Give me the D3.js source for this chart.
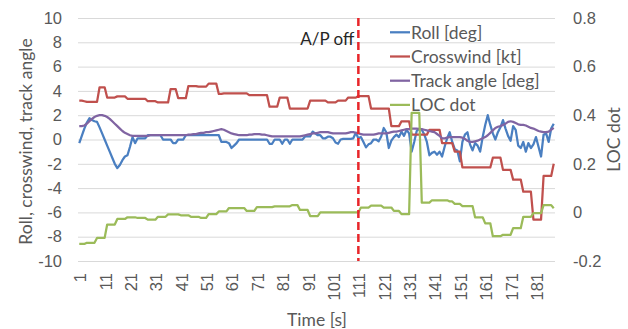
<!DOCTYPE html>
<html><head><meta charset="utf-8">
<script src="https://cdn.jsdelivr.net/npm/d3@7/dist/d3.min.js"></script>
<style>
html,body{margin:0;padding:0;background:#fff;}
svg{display:block;font-family:Lato,"Open Sans",sans-serif;}
</style></head>
<body><svg id="c" width="628" height="329"></svg>
<script>
// ---- data ----
const seriesNames = ["Roll [deg]","Crosswind [kt]","Track angle [deg]","LOC dot"];
const xTickLabels = ["1","11","21","31","41","51","61","71","81","91","101","111","121","131","141","151","161","171","181"];
const leftTicks = [-10,-8,-6,-4,-2,0,2,4,6,8,10];
const rightTicks = [-0.2,0,0.2,0.4,0.6,0.8];
const apOffTime = 111;

const roll = [
-0.3,0.3,0.9,1.4,1.75,1.6,1.5,1.45,1.0,0.5,
0.0,-0.5,-1.0,-1.5,-2.0,-2.35,-2.1,-1.7,-1.4,-1.3,
-0.6,0.2,-0.3,0.1,0.1,0.1,0.1,0.35,0.35,0.35,
0.35,0.35,0.35,0.0,0.0,0.0,0.0,-0.3,-0.3,0.0,
0.0,0.0,0.35,0.35,0.35,0.35,0.35,0.35,0.35,0.35,
0.35,0.35,0.35,0.35,0.35,0.35,-0.2,-0.2,-0.2,-0.3,
-0.7,-0.5,-0.3,0,0,0,0,0,0,0,
0,0,0,0,0,-0.35,-0.35,0,0,0,
-0.35,0,0,-0.35,0,0,0,0,0,0.25,
0.25,0.25,0.65,0.5,0.35,0.35,0.1,0.1,0.23,0.23,
0.1,-0.25,-0.35,0.0,0.05,0.05,0.05,0.05,0.1,0.55,
0.1,0.2,-0.2,-0.65,-0.4,-0.3,0.0,0.0,-0.15,0.25,
0.95,0.6,-0.7,-0.1,0.2,0.4,0.2,0.65,0.3,0.8,
0.5,-1.0,-0.2,0.7,0.9,0.8,0.4,-0.2,-1.3,-1.1,
-1.0,-1.25,-1.0,-1.4,-0.6,0.1,0.6,-0.2,-0.8,-0.9,
-1.8,-0.2,0.4,0.6,-0.4,-0.9,-0.3,-0.5,-1.0,0.2,
1.2,2.0,1.2,0.5,0.0,0.6,1.0,1.6,0.9,0.3,
-0.1,1.1,0.8,-0.5,-0.7,-0.2,-1.0,-0.3,-0.7,-0.4,
0.2,-0.6,-1.4,0.4,0.5,-0.2,0.9,1.3
];

const crosswind = [
3.2,3.2,3.15,3.1,3.1,3.1,3.1,3.1,
4.3,4.3,4.3,
3.45,3.45,3.45,3.45,
3.55,3.55,3.55,3.55,
3.35,3.35,3.35,3.35,3.35,3.35,3.35,3.35,
3.15,3.15,3.15,3.15,
3.05,3.05,3.05,3.05,3.05,
4.15,4.15,4.15,
3.4,3.4,3.4,3.4,
4.4,4.4,4.4,4.4,
4.35,4.35,4.35,4.35,
4.6,4.6,4.6,4.6,
3.75,3.75,3.8,3.8,3.8,3.8,3.8,3.8,3.8,3.8,3.8,3.8,
3.65,3.65,3.65,3.65,3.65,3.65,3.65,3.65,
2.7,2.7,2.7,2.7,
3.45,3.45,3.45,3.45,
2.55,2.55,2.55,2.55,2.55,2.55,2.55,2.55,
3.2,3.2,3.2,3.2,3.2,3.2,3.2,
3.05,3.05,3.05,3.05,
3.2,3.2,3.2,3.2,
3.45,3.45,3.45,3.45,
3.58,3.58,3.58,3.58,3.58,
2.55,2.55,2.55,2.55,2.55,2.55,2.55,2.55,
1.1,1.1,1.1,1.1,
1.5,1.5,1.5,1.5,
0.4,0.4,0.4,0.4,0.4,0.4,0.4,
0.8,0.8,0.8,0.8,0.8,
-0.3,-0.3,-0.3,-0.3,-0.3,
-1.0,-1.0,-1.0,
-2.3,-2.3,-2.3,-2.3,-2.3,-2.3,-2.3,-2.3,-2.3,-2.3,-2.3,-2.3,
-1.5,-1.5,-1.5,-1.5,
-2.5,-2.5,-2.5,-2.5,
-3.3,-3.3,-3.3,-3.3,
-4.3,-4.3,-4.3,-4.3,
-6.6,-6.6,-6.6,-6.6,
-3.0,-3.0,-3.0,-3.0,
-2.0
];

const trackAngle = [
1.1,1.1,1.15,
1.3,1.5,1.7,1.85,1.95,2.0,
2.0,1.95,1.85,
1.7,1.5,1.3,1.1,0.9,0.7,0.55,0.45,
0.35,0.3,0.3,0.3,0.3,0.3,0.3,0.3,
0.35,0.35,0.35,0.35,0.35,0.35,0.35,0.35,0.35,0.35,0.35,0.35,0.35,0.35,0.35,
0.4,0.4,0.45,0.45,0.5,0.55,0.55,0.6,0.6,0.65,0.7,0.75,0.8,
0.85,0.8,0.7,0.6,0.5,0.45,0.4,0.35,
0.35,0.35,0.35,0.4,0.4,0.45,0.45,0.45,0.4,0.4,0.35,0.3,
0.25,0.25,0.25,0.25,0.25,0.25,0.25,0.25,0.25,0.25,0.25,0.25,
0.3,0.35,0.4,0.45,0.5,0.5,
0.55,0.6,0.6,0.6,0.6,0.55,
0.5,0.5,0.5,0.5,0.5,0.5,0.55,0.6,
0.6,0.55,0.5,0.45,0.4,
0.4,0.4,0.4,0.4,0.45,
0.5,0.5,0.5,0.5,0.55,0.6,
0.65,0.65,0.7,0.75,0.8,0.85,0.85,
0.9,0.9,0.9,0.85,0.85,0.8,0.75,
0.7,0.65,0.6,0.45,0.3,0.1,
0.1,0.15,0.2,0.2,0.2,0.2,0.2,0.15,0.05,-0.1,-0.2,-0.2,-0.15,
-0.1,0,0.1,0.2,0.35,0.55,0.75,0.95,1.05,1.1,
1.2,1.3,1.45,1.5,1.45,
1.35,1.25,1.2,1.2,1.15,1.05,0.95,0.9,
0.8,0.7,0.65,0.6,0.6,0.65,0.8,0.95
];

const locDot = [
-0.13,-0.13,-0.13,
-0.125,-0.125,-0.125,-0.125,
-0.105,-0.105,-0.105,-0.105,
-0.05,-0.05,-0.05,-0.05,
-0.027,-0.027,-0.027,-0.027,
-0.02,-0.02,-0.02,-0.02,
-0.023,-0.023,-0.023,-0.023,
-0.03,-0.03,-0.03,-0.03,
-0.018,-0.018,-0.018,-0.018,
-0.008,-0.008,-0.008,-0.008,-0.008,
-0.012,-0.012,-0.012,-0.012,
-0.018,-0.018,-0.018,-0.018,
-0.023,-0.023,-0.023,
-0.007,-0.007,-0.007,-0.007,
0.004,0.004,0.004,0.004,
0.018,0.018,0.018,0.018,0.018,0.018,0.018,
0.006,0.006,0.006,0.006,
0.022,0.022,0.022,0.022,0.022,0.022,0.022,
0.025,0.025,0.025,0.025,0.025,0.025,0.025,
0.03,0.03,0.03,
0.01,0.01,0.01,0.01,
-0.015,-0.015,-0.015,-0.015,
0,0,0,0,0,0,0,0,0,0,0,0,0,0,0,0,
0.02,0.02,0.02,0.02,
0.028,0.028,0.028,0.028,0.028,
0.02,0.02,0.02,0.02,
0.006,0.006,0.006,
-0.007,-0.007,-0.007,-0.007,
0.41,0.41,0.41,0.41,
0.04,0.04,0.04,0.04,
0.05,0.05,0.05,0.05,0.05,0.05,0.05,
0.045,0.045,
0.035,0.035,0.035,
0.026,0.026,0.026,0.026,0.026,
-0.02,-0.02,-0.02,-0.02,
-0.045,-0.045,-0.045,
-0.098,-0.098,-0.098,-0.098,
-0.092,-0.092,-0.092,-0.092,
-0.065,-0.065,-0.065,-0.065,
-0.018,-0.018,-0.018,-0.018,
-0.003,-0.003,-0.003,-0.003,
0.03,0.03,0.03,0.03,
0.017
];

const time = roll.map((d,i)=>i+1);

// ---- chart ----
const colors = ["#4a7fc1","#c0504d","#8064a2","#9bbb59"];
const svg = d3.select("#c");
const L=78,R=555,T=18,B=261;
const x = d3.scaleBand().domain(time).range([L,R]);
const cx = t => x(t)+x.bandwidth()/2;
const yL = d3.scaleLinear().domain([-10,10]).range([B,T]);
const yR = d3.scaleLinear().domain([-0.2,0.8]).range([B,T]);
const txt = "#595959";
const tickFont = "16.5px";
const labFont = "17.5px";

// gridlines + left axis
const gl = svg.append("g").attr("transform",`translate(${L},0)`)
  .call(d3.axisLeft(yL).tickValues(leftTicks).tickSize(-(R-L)).tickPadding(16).tickFormat(d=>String(d)));
gl.select(".domain").remove();
gl.selectAll(".tick line").attr("stroke","#d9d9d9").attr("stroke-width",1);
gl.selectAll(".tick text").attr("fill",txt).style("font-size",tickFont);

// right axis
const gr = svg.append("g").attr("transform",`translate(${R},0)`)
  .call(d3.axisRight(yR).tickValues(rightTicks).tickSize(0).tickPadding(18).tickFormat(d=>d===0?"0":String(d)));
gr.select(".domain").remove();
gr.selectAll(".tick text").attr("fill",txt).style("font-size",tickFont);

// x axis
const gx = svg.append("g").attr("transform",`translate(0,${B})`)
  .call(d3.axisBottom(x).tickValues(xTickLabels.map(Number)).tickSize(0));
gx.select(".domain").remove();
gx.selectAll(".tick text").attr("fill",txt).style("font-size",tickFont)
  .attr("transform","rotate(-90)").attr("text-anchor","end").attr("x",-12).attr("y",0).attr("dy","0.42em");

// series
const lineL = d3.line().x((d,i)=>cx(time[i])).y(d=>yL(d));
const lineR = d3.line().x((d,i)=>cx(time[i])).y(d=>yR(d));
const plotG = svg.append("g");
[roll,crosswind,trackAngle].forEach((s,k)=>{
  plotG.append("path").datum(s).attr("d",lineL).attr("fill","none")
    .attr("stroke",colors[k]).attr("stroke-width",2.25).attr("stroke-linejoin","round");
});
plotG.append("path").datum(locDot).attr("d",lineR).attr("fill","none")
  .attr("stroke",colors[3]).attr("stroke-width",2.25).attr("stroke-linejoin","round");

// A/P off marker
svg.append("line").attr("x1",cx(apOffTime)).attr("x2",cx(apOffTime)).attr("y1",T).attr("y2",B)
  .attr("stroke","#e8262a").attr("stroke-width",2.5).attr("stroke-dasharray","8,4");
svg.append("text").attr("x",cx(apOffTime)-4).attr("y",38).attr("text-anchor","end")
  .attr("dominant-baseline","central").attr("fill","#262626").style("font-size","17px").text("A/P off");

// legend
const lg = svg.append("g");
seriesNames.forEach((n,k)=>{
  const yy = 32.3 + k*24.2;
  lg.append("line").attr("x1",390).attr("x2",410).attr("y1",yy).attr("y2",yy)
    .attr("stroke",colors[k]).attr("stroke-width",2.25);
  lg.append("text").attr("x",411).attr("y",yy).attr("dominant-baseline","central")
    .attr("fill",txt).style("font-size",labFont).text(n);
});

// axis titles
svg.append("text").attr("transform",`translate(25,${(T+B)/2+2}) rotate(-90)`).attr("text-anchor","middle")
  .attr("dominant-baseline","central").attr("fill",txt).style("font-size",labFont).text("Roll, crosswind, track angle");
svg.append("text").attr("transform",`translate(613,${(T+B)/2}) rotate(-90)`).attr("text-anchor","middle")
  .attr("dominant-baseline","central").attr("fill",txt).style("font-size",labFont).text("LOC dot");
svg.append("text").attr("x",317).attr("y",319).attr("text-anchor","middle")
  .attr("dominant-baseline","central").attr("fill",txt).style("font-size",labFont).text("Time [s]");
</script></body></html>
